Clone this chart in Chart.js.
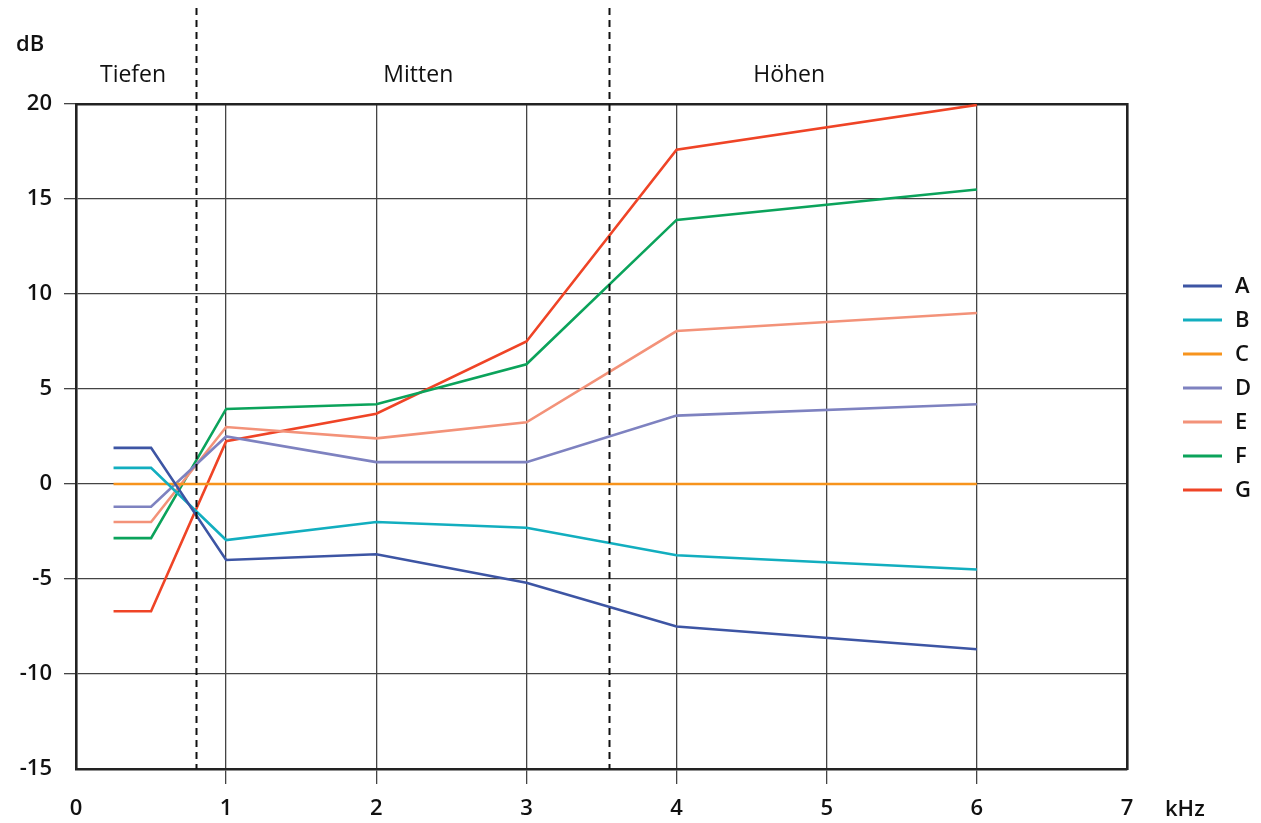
<!DOCTYPE html>
<html>
<head>
<meta charset="utf-8">
<script src="https://cdn.jsdelivr.net/npm/chart.js@4/dist/chart.umd.min.js"></script>
<style>
  html, body { margin: 0; padding: 0; background: #fff; }
  #wrap { width: 1261px; height: 823px; }
</style>
</head>
<body>
<div id="wrap"><canvas id="chart" width="1261" height="823"></canvas></div>
<script>
// frequencies (kHz) and levels (dB)
const freqs = [0.25, 0.5, 1, 2, 3, 4, 6];
const seriesA = [1.9, 1.9, -4.0, -3.7, -5.2, -7.5, -8.7];
const seriesB = [0.85, 0.85, -2.95, -2.0, -2.3, -3.75, -4.5];
const seriesC = [0, 0, 0, 0, 0, 0, 0];
const seriesD = [-1.2, -1.2, 2.5, 1.15, 1.15, 3.6, 4.2];
const seriesE = [-2.0, -2.0, 3.0, 2.4, 3.25, 8.05, 9.0];
const seriesF = [-2.85, -2.85, 3.95, 4.2, 6.3, 13.9, 15.5];
const seriesG = [-6.7, -6.7, 2.25, 3.7, 7.5, 17.6, 19.95];
const seriesNames = ['A', 'B', 'C', 'D', 'E', 'F', 'G'];
const xTicks = [0, 1, 2, 3, 4, 5, 6, 7];
const yTicks = [-15, -10, -5, 0, 5, 10, 15, 20];
const bandEdges = [0.8, 3.55];
const bandLabels = [
  {text: 'Tiefen', x: 0.38},
  {text: 'Mitten', x: 2.28},
  {text: 'Höhen', x: 4.75}
];

const colors = ['#3d55a4', '#12aebf', '#f7941d', '#7e82c0', '#f39279', '#0ba35b', '#ef4426'];
const allSeries = [seriesA, seriesB, seriesC, seriesD, seriesE, seriesF, seriesG];

const FONT = '"Open Sans", "DejaVu Sans", sans-serif';

function toPoints(vals) {
  return vals.map((v, i) => ({x: freqs[i], y: v}));
}

// dashed band separators, band names, axis units and legend
const decorations = {
  id: 'decorations',
  afterDatasetsDraw(chart) {
    const ctx = chart.ctx;
    const xs = chart.scales.x;
    const area = chart.chartArea;

    ctx.save();
    ctx.strokeStyle = '#111';
    ctx.lineWidth = 2;
    ctx.setLineDash([7, 5]);
    bandEdges.forEach(v => {
      const px = Math.round(xs.getPixelForValue(v)) + 0.5;
      ctx.beginPath();
      ctx.moveTo(px, 8);
      ctx.lineTo(px, area.bottom);
      ctx.stroke();
    });
    ctx.restore();

    ctx.save();
    ctx.fillStyle = '#111';
    ctx.textAlign = 'center';
    ctx.textBaseline = 'middle';
    ctx.font = '400 23px ' + FONT;
    bandLabels.forEach(b => {
      ctx.fillText(b.text, xs.getPixelForValue(b.x), 75);
    });

    ctx.font = '600 22px ' + FONT;
    ctx.textAlign = 'left';
    ctx.fillText('dB', 16, 45);
    ctx.fillText('kHz', 1165, 810);

    // legend
    chart.data.datasets.forEach((ds, i) => {
      const y = 286 + i * 34;
      ctx.strokeStyle = ds.borderColor;
      ctx.lineWidth = 3;
      ctx.beginPath();
      ctx.moveTo(1183, y);
      ctx.lineTo(1222, y);
      ctx.stroke();
      ctx.fillStyle = '#111';
      ctx.fillText(ds.label, 1235, y + 1);
    });
    ctx.restore();
  }
};

const ctx = document.getElementById('chart').getContext('2d');
const chart = new Chart(ctx, {
  type: 'line',
  data: {
    datasets: allSeries.map((vals, i) => ({
      label: seriesNames[i],
      data: toPoints(vals),
      borderColor: colors[i],
      backgroundColor: colors[i],
      borderWidth: 2.6,
      pointRadius: 0,
      tension: 0,
      fill: false
    }))
  },
  options: {
    responsive: false,
    animation: false,
    devicePixelRatio: 1,
    layout: {
      padding: {top: 104, right: 134, left: 0, bottom: 0}
    },
    plugins: {
      legend: {display: false},
      tooltip: {enabled: false}
    },
    scales: {
      x: {
        type: 'linear',
        min: 0,
        max: 7,
        afterBuildTicks: s => { s.ticks = xTicks.map(v => ({value: v})); },
        afterFit: s => { s.height = 823 - 769; },
        ticks: {
          color: '#111',
          padding: 12,
          font: {family: FONT, size: 22, weight: '600'}
        },
        grid: {
          color: '#444',
          lineWidth: 1.3,
          tickLength: 15,
          tickColor: c => (c.tick && (c.tick.value === 0 || c.tick.value === 7)) ? 'rgba(0,0,0,0)' : '#444'
        },
        border: {display: true, color: '#222', width: 2.6}
      },
      y: {
        min: -15,
        max: 20,
        afterBuildTicks: s => { s.ticks = yTicks.map(v => ({value: v})); },
        afterFit: s => { s.width = 76; },
        ticks: {
          color: '#111',
          padding: 12,
          font: {family: FONT, size: 22, weight: '600'}
        },
        grid: {
          color: '#444',
          lineWidth: 1.3,
          tickLength: 12,
          tickColor: c => (c.tick && c.tick.value === -15) ? 'rgba(0,0,0,0)' : '#444'
        },
        border: {display: true, color: '#222', width: 2.6}
      },
      // right and top frame lines
      x2: {
        type: 'linear', position: 'top', min: 0, max: 7,
        afterFit: s => { s.height = 0; },
        ticks: {display: false},
        grid: {display: false},
        border: {display: true, color: '#222', width: 2.6}
      },
      y2: {
        type: 'linear', position: 'right', min: -15, max: 20,
        afterFit: s => { s.width = 0; },
        ticks: {display: false},
        grid: {display: false},
        border: {display: true, color: '#222', width: 2.6}
      }
    }
  },
  plugins: [decorations]
});
</script>
</body>
</html>
